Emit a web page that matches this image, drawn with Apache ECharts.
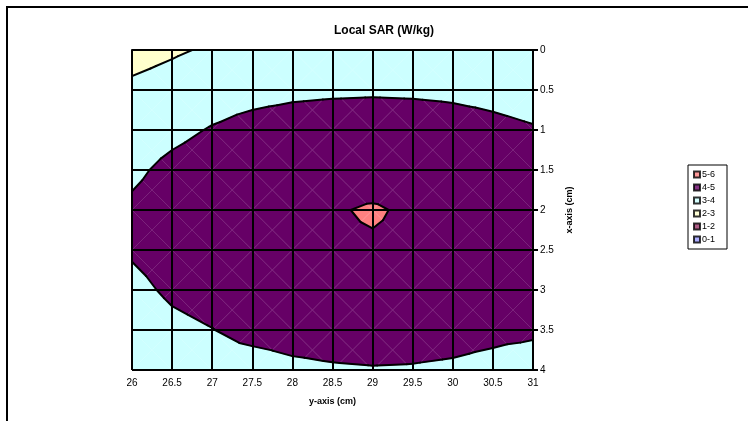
<!DOCTYPE html>
<html>
<head>
<meta charset="utf-8">
<script src="https://cdn.jsdelivr.net/npm/echarts@6/dist/echarts.min.js"></script>
<style>html,body{margin:0;padding:0;background:#fff}#chart{width:748px;height:421px}</style>
</head>
<body>
<div id="chart"></div>
<script>
// y-axis (cm) along the bottom, x-axis (cm) down the right side
var yCm = [26, 26.5, 27, 27.5, 28, 28.5, 29, 29.5, 30, 30.5, 31];
var xCm = [0, 0.5, 1, 1.5, 2, 2.5, 3, 3.5, 4];

// local SAR (W/kg), one row per x value, one column per y value
var sar = [
    [2.70, 2.90, 3.10, 3.25, 3.35, 3.40, 3.42, 3.40, 3.35, 3.25, 3.15],
    [3.16, 3.34, 3.58, 3.70, 3.80, 3.86, 3.89, 3.86, 3.80, 3.70, 3.55],
    [3.50, 3.78, 4.06, 4.30, 4.45, 4.50, 4.50, 4.50, 4.42, 4.25, 4.08],
    [3.83, 4.22, 4.45, 4.60, 4.62, 4.50, 4.40, 4.45, 4.50, 4.45, 4.35],
    [4.15, 4.45, 4.65, 4.78, 4.88, 4.90, 5.12, 4.82, 4.70, 4.60, 4.50],
    [4.10, 4.40, 4.60, 4.72, 4.82, 4.80, 4.86, 4.75, 4.68, 4.58, 4.48],
    [3.76, 4.15, 4.35, 4.55, 4.65, 4.68, 4.70, 4.62, 4.55, 4.45, 4.35],
    [3.43, 3.78, 3.98, 4.25, 4.32, 4.38, 4.42, 4.38, 4.30, 4.22, 4.15],
    [3.10, 3.40, 3.60, 3.63, 3.83, 3.91, 3.95, 3.93, 3.87, 3.73, 3.55]
];

var bands = ['0-1', '1-2', '2-3', '3-4', '4-5', '5-6'];
var bandColors = ['#9999FF', '#993366', '#FFFFCC', '#CCFFFF', '#660066', '#FF8080'];

var font = "'Liberation Sans', Arial, sans-serif";

var cells = [];
for (var r = 0; r < xCm.length - 1; r++) {
    for (var c = 0; c < yCm.length - 1; c++) {
        cells.push([yCm[c], xCm[r], c, r]);
    }
}

// split a cell into 4 triangles through its centre, like excel does
function triangles(api, c, r) {
    function pt(rr, cc) {
        var p = api.coord([yCm[cc], xCm[rr]]);
        return { x: p[0], y: p[1], z: sar[rr][cc] };
    }
    var tl = pt(r, c), tr = pt(r, c + 1), br = pt(r + 1, c + 1), bl = pt(r + 1, c);
    var m = { x: (tl.x + br.x) / 2, y: (tl.y + br.y) / 2, z: (tl.z + tr.z + br.z + bl.z) / 4 };
    return [[tl, tr, m], [tr, br, m], [br, bl, m], [bl, tl, m]];
}

function lerp(a, b, lv) {
    var t = (lv - a.z) / (b.z - a.z);
    return { x: a.x + t * (b.x - a.x), y: a.y + t * (b.y - a.y), z: lv };
}

function clip(poly, lv, above) {
    var out = [];
    for (var i = 0; i < poly.length; i++) {
        var a = poly[i], b = poly[(i + 1) % poly.length];
        var ia = above ? a.z >= lv : a.z <= lv;
        var ib = above ? b.z >= lv : b.z <= lv;
        if (ia) out.push(a);
        if (ia !== ib) out.push(lerp(a, b, lv));
    }
    return out;
}

function renderFill(params, api) {
    var tris = triangles(api, api.value(2), api.value(3));
    var children = [];
    tris.forEach(function (tri) {
        for (var k = 0; k < bands.length; k++) {
            var poly = clip(clip(tri, k, true), k + 1, false);
            if (poly.length < 3) continue;
            children.push({
                type: 'polygon',
                shape: { points: poly.map(function (p) { return [p.x, p.y]; }) },
                style: { fill: bandColors[k], stroke: bandColors[k], lineWidth: 0.6 }
            });
        }
    });
    var seam = { stroke: 'rgba(255,255,255,0.14)', lineWidth: 0.8 };
    children.push({ type: 'line', shape: { x1: tris[0][0].x, y1: tris[0][0].y, x2: tris[1][1].x, y2: tris[1][1].y }, style: seam });
    children.push({ type: 'line', shape: { x1: tris[0][1].x, y1: tris[0][1].y, x2: tris[2][1].x, y2: tris[2][1].y }, style: seam });
    return { type: 'group', children: children };
}

function renderContours(params, api) {
    var tris = triangles(api, api.value(2), api.value(3));
    var children = [];
    tris.forEach(function (tri) {
        for (var lv = 1; lv < bands.length; lv++) {
            var pts = [];
            for (var i = 0; i < 3; i++) {
                var a = tri[i], b = tri[(i + 1) % 3];
                if ((a.z >= lv) !== (b.z >= lv)) pts.push(lerp(a, b, lv));
            }
            if (pts.length === 2) {
                children.push({
                    type: 'line',
                    shape: { x1: pts[0].x, y1: pts[0].y, x2: pts[1].x, y2: pts[1].y },
                    style: { stroke: '#000', lineWidth: 2, lineCap: 'round' }
                });
            }
        }
    });
    return { type: 'group', children: children };
}

var series = [
    { type: 'custom', renderItem: renderFill, data: cells, clip: true, z: 1, silent: true },
    { type: 'custom', renderItem: renderContours, data: cells, clip: true, z: 2, silent: true }
];
for (var k = bands.length - 1; k >= 0; k--) {
    series.push({
        name: bands[k],
        type: 'scatter',
        data: [],
        itemStyle: { color: bandColors[k], borderColor: '#000', borderWidth: 1 }
    });
}

var opts = {
    animation: false,
    backgroundColor: '#fff',
    title: {
        text: 'Local SAR (W/kg)',
        left: 329,
        top: 20,
        textStyle: { fontSize: 12, fontWeight: 'bold', color: '#000', fontFamily: font }
    },
    legend: {
        orient: 'vertical',
        left: 688,
        top: 165,
        data: bands.slice().reverse(),
        icon: 'rect',
        itemWidth: 6,
        itemHeight: 6,
        itemGap: 4,
        padding: [5, 12, 5, 5],
        borderColor: '#000',
        borderWidth: 1,
        selectedMode: false,
        textStyle: { fontSize: 9, color: '#000', fontFamily: font, padding: [0, 0, 0, -3] }
    },
    grid: { left: 132, top: 50, width: 401, height: 320 },
    xAxis: {
        type: 'value',
        min: 26,
        max: 31,
        interval: 0.5,
        z: 5,
        name: 'y-axis (cm)',
        nameLocation: 'middle',
        nameGap: 27,
        nameTextStyle: { fontSize: 9, fontWeight: 'bold', color: '#000', fontFamily: font },
        axisLine: { show: true, lineStyle: { color: '#000', width: 2 } },
        axisTick: { show: true, length: 5, lineStyle: { color: '#000', width: 2 } },
        axisLabel: { fontSize: 10, color: '#000', margin: 8, fontFamily: font },
        splitLine: { show: true, lineStyle: { color: '#000', width: 2 } }
    },
    yAxis: {
        type: 'value',
        min: 0,
        max: 4,
        interval: 0.5,
        inverse: true,
        position: 'right',
        z: 5,
        name: 'x-axis (cm)',
        nameLocation: 'middle',
        nameRotate: 90,
        nameGap: 26,
        nameTextStyle: { fontSize: 9, fontWeight: 'bold', color: '#000', fontFamily: font },
        axisLine: { show: true, lineStyle: { color: '#000', width: 2 } },
        axisTick: { show: true, length: 5, lineStyle: { color: '#000', width: 2 } },
        axisLabel: { fontSize: 10, color: '#000', margin: 7, fontFamily: font },
        splitLine: { show: true, lineStyle: { color: '#000', width: 2 } }
    },
    graphic: [{
        type: 'rect',
        shape: { x: 7, y: 7, width: 800, height: 500 },
        style: { fill: 'none', stroke: '#000', lineWidth: 2 },
        silent: true
    }],
    series: series
};

echarts.init(document.getElementById('chart')).setOption(opts);
</script>
</body>
</html>
